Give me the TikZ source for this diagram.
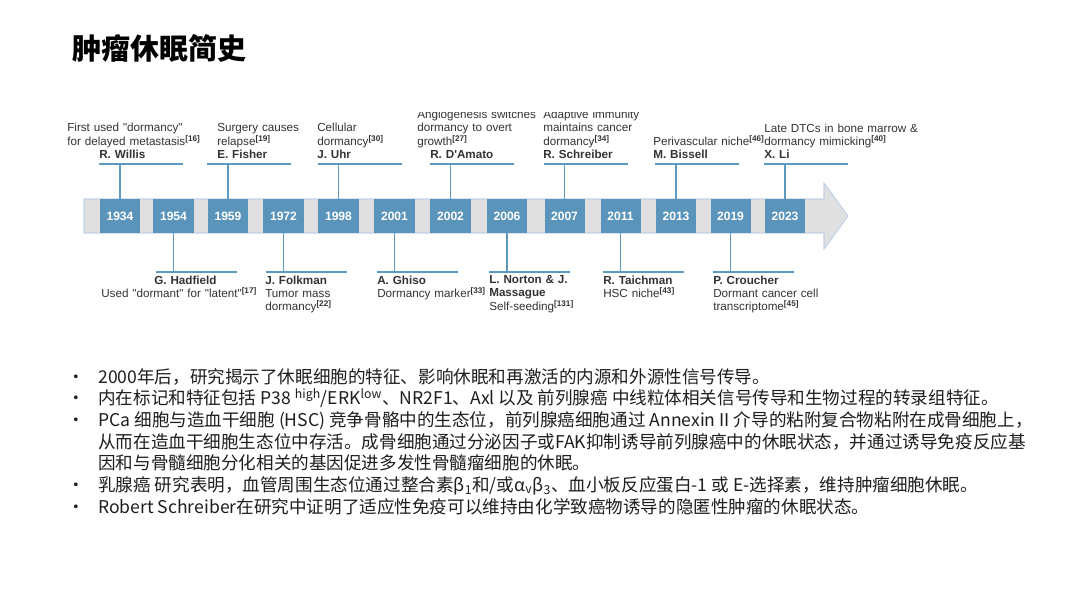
\documentclass[tikz,border=0pt]{standalone}
\usepackage{fontspec}
\setmainfont{Liberation Sans}[Ligatures=TeXOff]
\newfontfamily\cjk{Noto Sans CJK SC}
\usetikzlibrary{calc}
\definecolor{yearblue}{RGB}{90,148,186}
\definecolor{tlline}{RGB}{96,153,192}
\definecolor{bargray}{RGB}{224,224,224}
\definecolor{baredge}{RGB}{196,211,230}
\definecolor{txtgray}{RGB}{51,51,51}
\definecolor{bodytext}{RGB}{30,30,30}
\newcommand\tlfont{\fontsize{8.3}{9.3}\selectfont}
\newcommand\refnum[1]{\textsuperscript{\bfseries[#1]}}
\tikzset{
  yearbox/.style={fill=yearblue, text=white, font=\fontsize{8.6}{10}\selectfont\bfseries,
    minimum width=1cm, minimum height=0.85cm, inner sep=0pt},
  tlink/.style={draw=tlline, line width=1.3pt},
  event/.style={align=left, text width=4.2cm, inner sep=0pt, font=\tlfont, text=txtgray},
  bodyline/.style={anchor=base west, inner sep=0pt, text=bodytext,
    font=\cjk\fontsize{12.5}{15}\selectfont},
}

\begin{document}
\begin{tikzpicture}[x=0.025cm,y=-0.025cm]
  \useasboundingbox[fill=white] (0,0) rectangle (1080,608);

  %% Title
  \node[anchor=base west, inner sep=0pt, font=\cjk\bfseries\fontsize{20.6}{24}\selectfont]
    (title) at (72,59) {肿瘤休眠简史};

  \begin{scope}
  \clip (0,112.5) rectangle (1080,340);
  %% Timeline arrow
  \draw[fill=bargray, draw=baredge, line width=0.8pt]
    (84,199) -- (824,199) -- (824,183) -- (848,216) -- (824,249) -- (824,233) -- (84,233) -- cycle;

  %% Year boxes
  \foreach \x/\yr in {120/1934,173.5/1954,228/1959,283.5/1972,338.5/1998,394.5/2001,
                      450.5/2002,507/2006,564.5/2007,620.5/2011,676/2013,730.5/2019,785/2023}
  {
    \node[yearbox] (Y\yr) at (\x,216) {\yr};
  }

  \coordinate (toprow) at (0,164);
  \coordinate (botrow) at (0,272);

  %% Events above the arrow
  \foreach \yr/\tx/\body in {
    1934/67/{First used "dormancy"\\for delayed metastasis\refnum{16}\\\hspace*{0.8cm}\textbf{R. Willis}},
    1959/217/{Surgery causes\\relapse\refnum{19}\\\textbf{E. Fisher}},
    1998/317/{Cellular\\dormancy\refnum{30}\\\textbf{J. Uhr}},
    2002/417/{Angiogenesis switches\\dormancy to overt\\growth\refnum{27}\\\hspace*{0.325cm}\textbf{R. D'Amato}},
    2007/543/{Adaptive immunity\\maintains cancer\\dormancy\refnum{34}\\\textbf{R. Schreiber}},
    2013/653/{Perivascular niche\refnum{46}\\\textbf{M. Bissell}},
    2023/764/{Late DTCs in bone marrow \&\\dormancy mimicking\refnum{40}\\\textbf{X. Li}}}
  {
    \coordinate (T\yr) at (Y\yr.north |- toprow);
    \coordinate (TL\yr) at ($(T\yr)+(-21,0)$);
    \coordinate (TR\yr) at ($(T\yr)+(63,0)$);
    \draw[tlink] (Y\yr.north) -- (T\yr);
    \draw[tlink] (TL\yr) -- (TR\yr);
    \node[event, anchor=south west] (E\yr) at (\tx,158.5) {\body};
  }

  %% Events below the arrow
  \foreach \yr/\tx/\body in {
    1954/101/{\hspace*{1.325cm}\textbf{G. Hadfield}\\Used "dormant" for "latent"\refnum{17}},
    1972/265/{\textbf{J. Folkman}\\Tumor mass\\dormancy\refnum{22}},
    2001/377/{\textbf{A. Ghiso}\\Dormancy marker\refnum{33}},
    2006/489/{\textbf{L. Norton \& J.}\\\textbf{Massague}\\Self-seeding\refnum{131}},
    2011/603/{\textbf{R. Taichman}\\HSC niche\refnum{43}},
    2019/713/{\textbf{P. Croucher}\\Dormant cancer cell\\transcriptome\refnum{45}}}
  {
    \coordinate (B\yr) at (Y\yr.south |- botrow);
    \coordinate (BL\yr) at ($(B\yr)+(-18,0)$);
    \coordinate (BR\yr) at ($(B\yr)+(63,0)$);
    \draw[tlink] (Y\yr.south) -- (B\yr);
    \draw[tlink] (BL\yr) -- (BR\yr);
    \node[event, anchor=north west] (E\yr) at (\tx,275.5) {\body};
  }
  \end{scope}

  %% Bullet points
  \foreach \i/\txt in {
    0/{2000年后，研究揭示了休眠细胞的特征、影响休眠和再激活的内源和外源性信号传导。},
    1/{内在标记和特征包括 P38 \textsuperscript{high}/ERK\textsuperscript{low}、NR2F1、Axl 以及 前列腺癌 中线粒体相关信号传导和生物过程的转录组特征。},
    2/{PCa 细胞与造血干细胞 (HSC) 竞争骨骼中的生态位，前列腺癌细胞通过 Annexin II 介导的粘附复合物粘附在成骨细胞上，},
    3/{从而在造血干细胞生态位中存活。成骨细胞通过分泌因子或FAK抑制诱导前列腺癌中的休眠状态，并通过诱导免疫反应基},
    4/{因和与骨髓细胞分化相关的基因促进多发性骨髓瘤细胞的休眠。},
    5/{乳腺癌 研究表明，血管周围生态位通过整合素β\textsubscript{1}和/或α\textsubscript{v}β\textsubscript{3}、血小板反应蛋白-1 或 E-选择素，维持肿瘤细胞休眠。},
    6/{Robert Schreiber在研究中证明了适应性免疫可以维持由化学致癌物诱导的隐匿性肿瘤的休眠状态。}}
  {
    \node[bodyline] (L\i) at (98,{383+21.67*\i}) {\txt};
  }
  \foreach \i in {0,1,2,5,6}
  {
    \node[bodyline, anchor=base] (D\i) at (76,{383+21.67*\i}) {•};
  }
\end{tikzpicture}
\end{document}
